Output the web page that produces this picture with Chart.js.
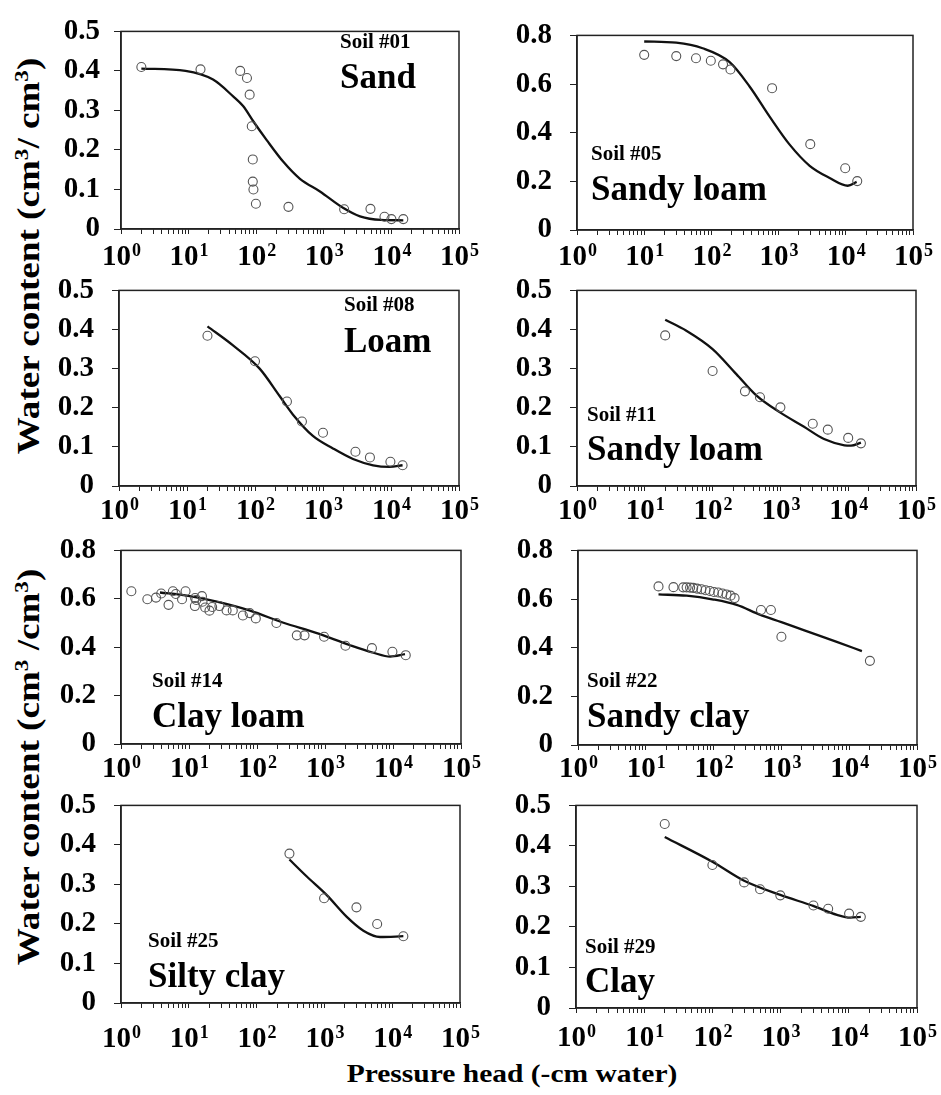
<!DOCTYPE html>
<html>
<head>
<meta charset="utf-8">
<script src="https://cdn.jsdelivr.net/npm/chart.js@4.4.1/dist/chart.umd.min.js"></script>
<style>
body { margin: 0; background: #fff; }
#wrap { position: relative; width: 941px; height: 1095px; overflow: hidden;
  font-family: "Liberation Serif", "Times New Roman", serif; font-weight: bold; color: #000; }
canvas { position: absolute; }
.title { position: absolute; white-space: nowrap; line-height: 1; }
.ytitle { font-size: 32px; transform: translate(-50%, -50%) rotate(-90deg) scaleX(1.16); }
.xtitle { font-size: 25px; transform: translate(-50%, -50%) scaleX(1.18); }
.sup { font-size: 0.62em; position: relative; top: -0.55em; }
</style>
</head>
<body>
<div id="wrap">
  <div class="title ytitle" style="left:28px; top:256px;">Water content (cm<span class="sup">3</span>/ cm<span class="sup">3</span>)</div>
  <div class="title ytitle" style="left:28px; top:767px;">Water content (cm<span class="sup">3</span> /cm<span class="sup">3</span>)</div>
  <div class="title xtitle" style="left:512px; top:1073px;">Pressure head (-cm water)</div>
</div>
<script>
// tick labels
const xTickBase = '10';
const xTickExponents = ['0', '1', '2', '3', '4', '5'];
const xMinorSteps = [2, 3, 4, 5, 6, 7, 8, 9];
const yTicksLow = ['0', '0.1', '0.2', '0.3', '0.4', '0.5'];
const yTicksHigh = ['0', '0.2', '0.4', '0.6', '0.8'];

const soilIds = ['Soil #01', 'Soil #05', 'Soil #08', 'Soil #11', 'Soil #14', 'Soil #22', 'Soil #25', 'Soil #29'];
const soilTextures = ['Sand', 'Sandy loam', 'Loam', 'Sandy loam', 'Clay loam', 'Sandy clay', 'Silty clay', 'Clay'];

// measured points (pressure head, water content)
const obsH01 = [2, 15, 58, 73, 80, 86, 89, 89, 91, 99, 300, 2000, 4900, 7900, 10000, 15000];
const obsW01 = [0.41, 0.404, 0.40, 0.382, 0.34, 0.26, 0.176, 0.12, 0.10, 0.064, 0.056, 0.05, 0.051, 0.031, 0.025, 0.025];
const fitH01 = [2, 9, 23, 46, 64, 91, 143, 252, 444, 878, 1950, 3430, 7000, 15000];
const fitW01 = [0.406, 0.40, 0.378, 0.335, 0.311, 0.272, 0.225, 0.17, 0.127, 0.095, 0.053, 0.032, 0.023, 0.022];

const obsH05 = [10, 30, 59, 98, 149, 192, 800, 2960, 9800, 14800];
const obsW05 = [0.72, 0.715, 0.706, 0.696, 0.681, 0.66, 0.583, 0.353, 0.254, 0.201];
const fitH05 = [10, 30, 74, 187, 370, 740, 1450, 2900, 5750, 10700, 14500];
const fitW05 = [0.775, 0.77, 0.747, 0.69, 0.59, 0.465, 0.352, 0.264, 0.214, 0.182, 0.198];

const obsH08 = [20, 100, 295, 490, 1000, 3000, 4900, 9800, 14800];
const obsW08 = [0.384, 0.319, 0.216, 0.165, 0.136, 0.0875, 0.073, 0.062, 0.053];
const fitH08 = [20, 47, 117, 230, 360, 710, 1400, 2760, 5450, 9500, 14800];
const fitW08 = [0.408, 0.36, 0.30, 0.23, 0.183, 0.128, 0.096, 0.069, 0.053, 0.049, 0.053];

const obsH11 = [20, 100, 300, 500, 1000, 3000, 5000, 10000, 15400];
const obsW11 = [0.385, 0.294, 0.242, 0.227, 0.201, 0.159, 0.144, 0.123, 0.109];
const fitH11 = [20, 41, 100, 224, 445, 1000, 2200, 4400, 8800, 11000, 15400];
const fitW11 = [0.425, 0.397, 0.35, 0.286, 0.231, 0.1875, 0.152, 0.12, 0.104, 0.103, 0.111];

const obsH14 = [1.42, 2.44, 3.27, 3.9, 5.0, 5.8, 6.4, 7.9, 8.9, 12.2, 12.3, 12.8, 15.5, 15.8, 17.3, 20, 21.9, 28, 35.7, 44, 62, 78, 96, 193, 385, 500, 970, 2000, 4900, 9800, 15400];
const obsW14 = [0.631, 0.598, 0.605, 0.622, 0.575, 0.631, 0.62, 0.598, 0.631, 0.57, 0.603, 0.595, 0.611, 0.588, 0.564, 0.551, 0.566, 0.57, 0.552, 0.552, 0.531, 0.541, 0.519, 0.50, 0.449, 0.449, 0.443, 0.406, 0.396, 0.381, 0.367];
const fitH14 = [3.74, 9.3, 25.7, 79, 245, 760, 2340, 5150, 9100, 15000];
const fitW14 = [0.626, 0.613, 0.588, 0.551, 0.501, 0.458, 0.408, 0.377, 0.361, 0.371];

const obsH22 = [15.4, 25.6, 35.6, 40, 45, 50, 57, 66, 76, 88, 101, 117, 135, 155, 178, 204, 500, 700, 1000, 20200];
const obsW22 = [0.652, 0.649, 0.648, 0.648, 0.647, 0.646, 0.643, 0.64, 0.636, 0.633, 0.629, 0.627, 0.623, 0.619, 0.614, 0.604, 0.555, 0.555, 0.445, 0.346];
const fitH22 = [15.4, 40, 100, 219, 480, 1000, 2130, 6550, 15400];
const fitW22 = [0.619, 0.614, 0.598, 0.576, 0.536, 0.505, 0.472, 0.424, 0.386];

const obsH25 = [305, 990, 2970, 6000, 14600];
const obsW25 = [0.378, 0.265, 0.242, 0.20, 0.169];
const fitH25 = [305, 550, 1085, 2140, 3760, 6620, 14600];
const fitW25 = [0.363, 0.32, 0.273, 0.218, 0.183, 0.167, 0.169];

const obsH29 = [20, 100, 292, 500, 990, 3030, 4980, 10100, 15000];
const obsW29 = [0.454, 0.353, 0.31, 0.293, 0.278, 0.253, 0.245, 0.233, 0.225];
const fitH29 = [20, 100, 292, 990, 3000, 6700, 10500, 15000];
const fitW29 = [0.422, 0.361, 0.314, 0.279, 0.252, 0.23, 0.223, 0.225];

const panelData = [
  [obsH01, obsW01, fitH01, fitW01],
  [obsH05, obsW05, fitH05, fitW05],
  [obsH08, obsW08, fitH08, fitW08],
  [obsH11, obsW11, fitH11, fitW11],
  [obsH14, obsW14, fitH14, fitW14],
  [obsH22, obsW22, fitH22, fitW22],
  [obsH25, obsW25, fitH25, fitW25],
  [obsH29, obsW29, fitH29, fitW29]
];

// layout of each panel: canvas box + plot area inside it
const panels = [
  {left: 0,   top: 0,   w: 490, h: 272, aL: 121, aT: 17, aR: 459, aB: 229, yPad: 14, yTicks: yTicksLow,  lab: 265, tx: 340, t1: 48,  t2: 88},
  {left: 470, top: 0,   w: 471, h: 272, aL: 107, aT: 18, aR: 443, aB: 230, yPad: 18, yTicks: yTicksHigh, lab: 265, tx: 121, t1: 160, t2: 200},
  {left: 0,   top: 255, w: 490, h: 275, aL: 119, aT: 19, aR: 459, aB: 231, yPad: 18, yTicks: yTicksLow,  lab: 264, tx: 344, t1: 56,  t2: 97},
  {left: 470, top: 255, w: 471, h: 275, aL: 107, aT: 20, aR: 446, aB: 231, yPad: 18, yTicks: yTicksLow,  lab: 264, tx: 117, t1: 166, t2: 205},
  {left: 0,   top: 515, w: 490, h: 270, aL: 121, aT: 15, aR: 461, aB: 229, yPad: 18, yTicks: yTicksHigh, lab: 262, tx: 152, t1: 172, t2: 212},
  {left: 470, top: 515, w: 471, h: 270, aL: 108, aT: 16, aR: 447, aB: 230, yPad: 18, yTicks: yTicksHigh, lab: 262, tx: 117, t1: 172, t2: 212},
  {left: 0,   top: 770, w: 490, h: 290, aL: 121, aT: 20, aR: 460, aB: 233, yPad: 18, yTicks: yTicksLow,  lab: 277, tx: 148, t1: 177, t2: 217},
  {left: 470, top: 770, w: 471, h: 290, aL: 106, aT: 24, aR: 447, aB: 238, yPad: 18, yTicks: yTicksLow,  lab: 276, tx: 115, t1: 183, t2: 222}
];

const xTickValues = [];
xTickExponents.forEach((e, i) => {
  const p = Math.pow(10, Number(e));
  xTickValues.push(p);
  if (i < xTickExponents.length - 1) xMinorSteps.forEach(m => xTickValues.push(m * p));
});

const serif = '"Liberation Serif", "Times New Roman", serif';

const panelPlugin = {
  id: 'panelDecor',
  afterDraw(chart, args, opts) {
    const {ctx, chartArea: a} = chart;
    const xs = chart.scales.x;
    ctx.save();
    ctx.strokeStyle = '#222';
    ctx.lineWidth = 1.5;
    ctx.strokeRect(a.left, a.top, a.right - a.left, a.bottom - a.top);

    ctx.fillStyle = '#000';
    ctx.textBaseline = 'alphabetic';
    ctx.textAlign = 'left';
    xs.ticks.forEach(t => {
      const lg = Math.log10(t.value);
      const idx = xTickExponents.indexOf(String(Math.round(lg)));
      if (Math.abs(lg - Math.round(lg)) > 1e-9 || idx < 0) return;
      const ex = xTickExponents[idx];
      const px = xs.getPixelForValue(t.value);
      ctx.font = 'bold 29px ' + serif;
      const wb = ctx.measureText(xTickBase).width;
      ctx.font = 'bold 18px ' + serif;
      const we = ctx.measureText(ex).width;
      const sx = px - (wb + we) / 2;
      ctx.font = 'bold 29px ' + serif;
      ctx.fillText(xTickBase, sx, opts.lab);
      ctx.font = 'bold 18px ' + serif;
      ctx.fillText(ex, sx + wb + 1, opts.lab - 9);
    });

    ctx.font = 'bold 21px ' + serif;
    ctx.fillText(opts.id, opts.tx, opts.t1);
    ctx.font = 'bold 35px ' + serif;
    ctx.fillText(opts.name, opts.tx, opts.t2);
    ctx.restore();
  }
};

const wrap = document.getElementById('wrap');

panels.forEach((p, k) => {
  const cv = document.createElement('canvas');
  cv.width = p.w;
  cv.height = p.h;
  cv.style.left = p.left + 'px';
  cv.style.top = p.top + 'px';
  cv.style.width = p.w + 'px';
  cv.style.height = p.h + 'px';
  wrap.appendChild(cv);

  const [oh, ow, fh, fw] = panelData[k];
  const yVals = p.yTicks.map(Number);

  new Chart(cv.getContext('2d'), {
    type: 'scatter',
    data: {
      datasets: [
        {
          label: 'Measured',
          data: oh.map((h, i) => ({x: h, y: ow[i]})),
          pointStyle: 'circle',
          pointRadius: 4.5,
          pointBorderColor: '#555',
          pointBackgroundColor: 'rgba(255,255,255,0)',
          pointBorderWidth: 1.1,
          showLine: false,
          order: 1
        },
        {
          label: 'Fitted',
          type: 'line',
          data: fh.map((h, i) => ({x: h, y: fw[i]})),
          borderColor: '#111',
          borderWidth: 2.3,
          pointRadius: 0,
          fill: false,
          cubicInterpolationMode: 'monotone',
          order: 2
        }
      ]
    },
    options: {
      responsive: false,
      animation: false,
      devicePixelRatio: 1,
      layout: {padding: {left: 0, top: p.aT, right: p.w - p.aR, bottom: 0}},
      plugins: {
        legend: {display: false},
        tooltip: {enabled: false},
        panelDecor: {lab: p.lab, tx: p.tx, t1: p.t1, t2: p.t2, id: soilIds[k], name: soilTextures[k]}
      },
      scales: {
        x: {
          type: 'logarithmic',
          min: 1,
          max: 100000,
          afterBuildTicks: ax => { ax.ticks = xTickValues.map(v => ({value: v})); },
          afterFit: ax => { ax.height = p.h - p.aB; },
          ticks: {display: false},
          grid: {drawOnChartArea: false, drawTicks: true, tickLength: 5, color: '#222', lineWidth: 1},
          border: {color: '#222', width: 1.5}
        },
        y: {
          type: 'linear',
          min: 0,
          max: yVals[yVals.length - 1],
          afterBuildTicks: ax => { ax.ticks = yVals.map(v => ({value: v})); },
          afterFit: ax => { ax.width = p.aL; },
          ticks: {
            color: '#000',
            padding: p.yPad,
            font: {family: serif, size: 29, weight: 'bold'},
            callback: (v, i) => p.yTicks[i]
          },
          grid: {drawOnChartArea: false, drawTicks: true, tickLength: 7, color: '#222', lineWidth: 1},
          border: {color: '#222', width: 1.5}
        }
      }
    },
    plugins: [panelPlugin]
  });
});
</script>
</body>
</html>
